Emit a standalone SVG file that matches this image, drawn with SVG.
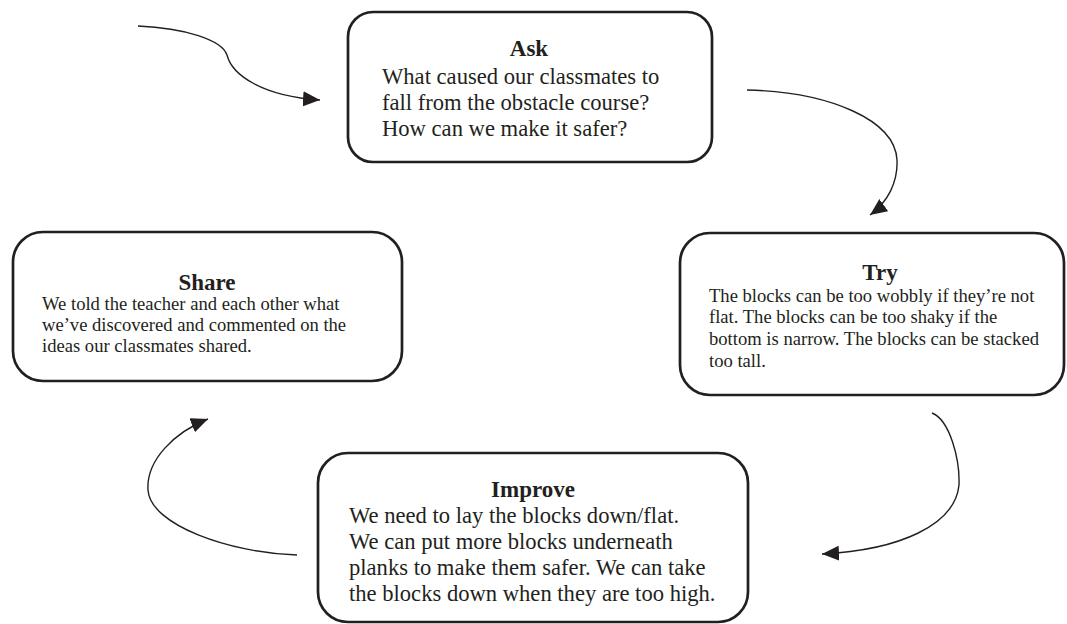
<svg xmlns="http://www.w3.org/2000/svg" width="1067" height="624" viewBox="0 0 1067 624">
<style>
.box{fill:#fff;stroke:#231f20;stroke-width:2.7}
.t{font-family:"Liberation Serif","Times New Roman",serif;fill:#231f20}
.ttl{font-weight:bold;font-size:23px;text-anchor:middle}
.big{font-size:22.6px}
.sm{font-size:18.6px}
.arr{fill:none;stroke:#231f20;stroke-width:1.4;marker-end:url(#ah)}
</style>
<defs>
<marker id="ah" markerUnits="userSpaceOnUse" markerWidth="18" markerHeight="16" refX="17" refY="7.5" orient="auto">
<path d="M0,0 L17,7.5 L0,15 z" fill="#231f20"/>
</marker>
</defs>
<g id="connectors">
<path class="arr" d="M138,26 C185,28 222,40 227,55 C232,75 262,96 320,100"/>
<path class="arr" d="M747,90 C830,92 895,120 897,160 C898,182 888,202 870,215"/>
<path class="arr" d="M932,413 C950,420 960,460 959,485 C955,525 900,550 822,554"/>
<path class="arr" d="M297,555 C230,553 150,525 148,490 C146,460 175,432 208,419"/>
</g>
<g id="ask">
<rect class="box" x="348" y="12" width="364" height="150" rx="25"/>
<text class="t ttl" x="529" y="56">Ask</text>
<text class="t big" x="382" y="84">What caused our classmates to</text>
<text class="t big" x="382" y="110">fall from the obstacle course?</text>
<text class="t big" x="382" y="136">How can we make it safer?</text>
</g>
<g id="try">
<rect class="box" x="680" y="233" width="384" height="162" rx="30"/>
<text class="t ttl" x="880" y="280">Try</text>
<text class="t sm" x="709" y="302">The blocks can be too wobbly if they’re not</text>
<text class="t sm" x="709" y="323">flat. The blocks can be too shaky if the</text>
<text class="t sm" x="709" y="345">bottom is narrow. The blocks can be stacked</text>
<text class="t sm" x="709" y="367">too tall.</text>
</g>
<g id="share">
<rect class="box" x="13" y="232" width="389" height="149" rx="30"/>
<text class="t ttl" x="207" y="290">Share</text>
<text class="t sm" x="42" y="310">We told the teacher and each other what</text>
<text class="t sm" x="42" y="331">we’ve discovered and commented on the</text>
<text class="t sm" x="42" y="352">ideas our classmates shared.</text>
</g>
<g id="improve">
<rect class="box" x="318" y="453" width="430" height="169" rx="30"/>
<text class="t ttl" x="533" y="497">Improve</text>
<text class="t big" x="349" y="523">We need to lay the blocks down/flat.</text>
<text class="t big" x="349" y="549">We can put more blocks underneath</text>
<text class="t big" x="349" y="575">planks to make them safer. We can take</text>
<text class="t big" x="349" y="601">the blocks down when they are too high.</text>
</g>
</svg>
